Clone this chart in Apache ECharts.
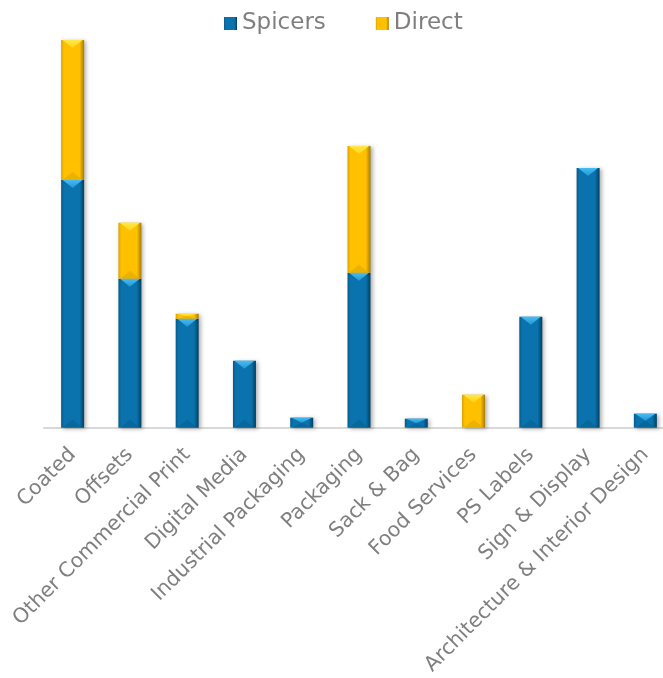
<!DOCTYPE html>
<html>
<head>
<meta charset="utf-8">
<script src="https://cdn.jsdelivr.net/npm/echarts@6/dist/echarts.min.js"></script>
<style>
html,body{margin:0;padding:0;background:#fff;overflow:hidden;width:663px;height:678px;}
#chart{width:676px;height:678px;}
</style>
</head>
<body>
<div id="chart"></div>
<script>
var categories = ["Coated","Offsets","Other Commercial Print","Digital Media","Industrial Packaging","Packaging","Sack & Bag","Food Services","PS Labels","Sign & Display","Architecture & Interior Design"];
var spicers = [248,149,109,67,10,155,9,0,111,260,14];
var direct  = [140,56,5,0,0,127,0,33,0,0,0];
var seriesNames = ["Spicers","Direct"];

var palettes = [
  {edgeL:'#055a8a', body:'#0a72ac', edgeR:'#03405f', top:'#45bdf5', mid:'#2596d4', bottom:'#06618f'},
  {edgeL:'#d9a200', body:'#ffc000', edgeR:'#a67c00', top:'#ffe94a', mid:'#ffd21a', bottom:'#e0a800'}
];
function bodyGrad(p){
  return new echarts.graphic.LinearGradient(0,0,1,0,[
    {offset:0,color:p.edgeL},{offset:0.12,color:p.body},{offset:0.8,color:p.body},{offset:1,color:p.edgeR}
  ]);
}

var bevelData = [];
for (var i=0;i<categories.length;i++){
  if (spicers[i]>0) bevelData.push([i,0,spicers[i],0]);
  if (direct[i]>0) bevelData.push([i,spicers[i],spicers[i]+direct[i],1]);
}

var BAR_W = 23;
var chart = echarts.init(document.getElementById('chart'));
chart.setOption({
  animation:false,
  backgroundColor:'#ffffff',
  legend:{
    data:seriesNames, left:219, top:7, itemWidth:13, itemHeight:13, itemGap:50,
    icon:'rect',
    textStyle:{fontFamily:'DejaVu Sans', fontSize:23, color:'#7f7f7f'}
  },
  grid:{left:44, width:630, top:40, bottom:250, containLabel:false},
  xAxis:{
    type:'category', data:categories,
    axisLine:{show:true, lineStyle:{color:'#d9d9d9', width:2}},
    axisTick:{show:false},
    axisLabel:{rotate:45, interval:0, margin:24, fontFamily:'DejaVu Sans', fontSize:20.5, color:'#7f7f7f'}
  },
  yAxis:{type:'value', min:0, max:388, show:false, splitLine:{show:false}},
  series:[
    {name:'Spicers', type:'bar', stack:'a', barWidth:BAR_W, data:spicers,
     itemStyle:{color:bodyGrad(palettes[0]), shadowBlur:4, shadowColor:'rgba(0,0,0,0.3)', shadowOffsetX:2, shadowOffsetY:1}},
    {name:'Direct', type:'bar', stack:'a', barWidth:BAR_W, data:direct,
     itemStyle:{color:bodyGrad(palettes[1]), shadowBlur:4, shadowColor:'rgba(0,0,0,0.3)', shadowOffsetX:2, shadowOffsetY:1}},
    {type:'custom', silent:true, z:5, data:bevelData,
     encode:{x:0, y:[1,2]},
     renderItem:function(params, api){
       var idx = api.value(0), lo = api.value(1), hi = api.value(2), s = api.value(3);
       var p = palettes[s];
       var top = api.coord([idx, hi]), bot = api.coord([idx, lo]);
       var cx = top[0], x0 = cx - BAR_W/2, x1 = cx + BAR_W/2;
       var yt = top[1], yb = bot[1];
       var t = Math.min(8, (yb-yt)/2);
       return {type:'group', children:[
         {type:'polygon', shape:{points:[[x0+1.5,yt],[x1-1.5,yt],[cx,yt+t]]},
          style:{fill:new echarts.graphic.LinearGradient(0,0,0,1,[{offset:0,color:p.top},{offset:1,color:p.mid}])}},
         {type:'polygon', shape:{points:[[x0+1.5,yb],[x1-1.5,yb],[cx,yb-t]]},
          style:{fill:p.bottom, opacity:0.6}}
       ]};
     }}
  ]
});
</script>
</body>
</html>
